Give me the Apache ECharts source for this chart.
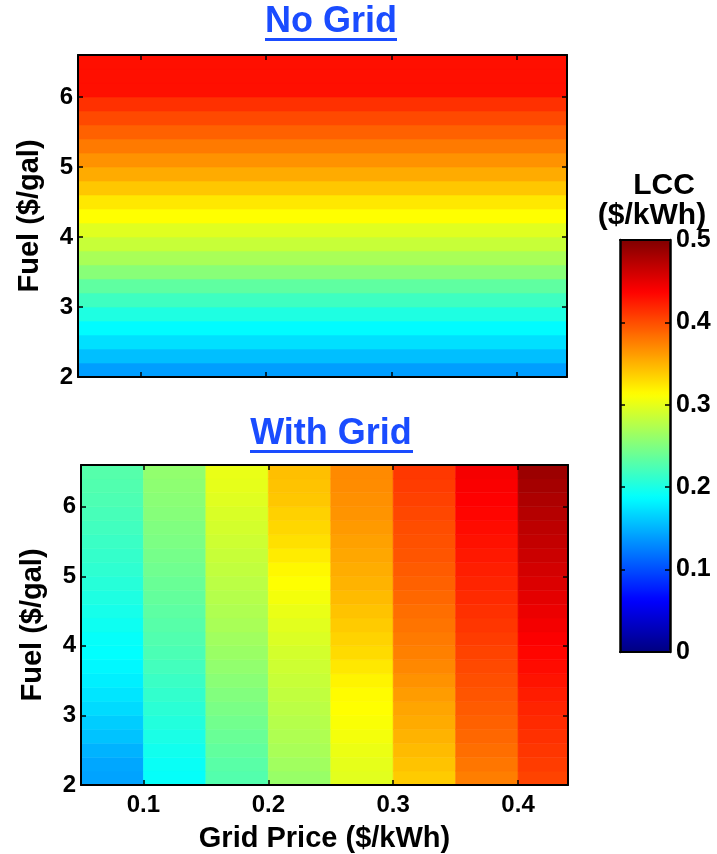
<!DOCTYPE html>
<html>
<head>
<meta charset="utf-8">
<script src="https://cdn.jsdelivr.net/npm/echarts@6/dist/echarts.min.js"></script>
<style>
html,body{margin:0;padding:0;background:#ffffff;}
#chart{width:717px;height:854px;}
</style>
</head>
<body>
<div id="chart"></div>
<script>
// ---------------- DATA ----------------
const gridPriceEdges = [0.05, 0.10, 0.15, 0.20, 0.25, 0.30, 0.35, 0.40, 0.44];
const fuelEdges = [2.0, 2.2, 2.4, 2.6, 2.8, 3.0, 3.2, 3.4, 3.6, 3.8, 4.0, 4.2,
                   4.4, 4.6, 4.8, 5.0, 5.2, 5.4, 5.6, 5.8, 6.0, 6.2, 6.4, 6.6];
const fuelTicks = [2, 3, 4, 5, 6];
const gridPriceTicks = [0.1, 0.2, 0.3, 0.4];
const lccTicks = [0, 0.1, 0.2, 0.3, 0.4, 0.5];

// No Grid: LCC per fuel band (bottom to top)
const noGridLCC = [0.140, 0.156, 0.172, 0.186, 0.202, 0.218, 0.234, 0.254, 0.270, 0.285,
                   0.297, 0.3125, 0.324, 0.340, 0.354, 0.366, 0.378, 0.390, 0.402, 0.414,
                   0.430, 0.430, 0.430];

// With Grid: LCC per fuel band (bottom to top), one array per grid-price column
const withGrid_005_010 = [0.142, 0.144, 0.150, 0.158, 0.163, 0.170, 0.175, 0.180, 0.184, 0.188, 0.190, 0.194,
                          0.198, 0.202, 0.206, 0.210, 0.213, 0.216, 0.219, 0.222, 0.225, 0.227, 0.229];
const withGrid_010_015 = [0.190, 0.192, 0.196, 0.200, 0.204, 0.208, 0.212, 0.216, 0.220, 0.224, 0.227, 0.230,
                          0.233, 0.236, 0.239, 0.242, 0.245, 0.248, 0.250, 0.253, 0.255, 0.257, 0.259];
const withGrid_015_020 = [0.228, 0.231, 0.235, 0.239, 0.243, 0.247, 0.251, 0.255, 0.259, 0.263, 0.266, 0.270,
                          0.273, 0.276, 0.279, 0.282, 0.285, 0.288, 0.291, 0.294, 0.297, 0.300, 0.302];
const withGrid_020_025 = [0.262, 0.266, 0.270, 0.273, 0.276, 0.279, 0.282, 0.285, 0.288, 0.291, 0.295, 0.298,
                          0.302, 0.307, 0.312, 0.316, 0.322, 0.328, 0.332, 0.335, 0.340, 0.342, 0.344];
const withGrid_025_030 = [0.298, 0.300, 0.303, 0.307, 0.310, 0.3125, 0.314, 0.318, 0.324, 0.330, 0.334, 0.338,
                          0.342, 0.346, 0.350, 0.353, 0.356, 0.359, 0.362, 0.365, 0.367, 0.369, 0.370];
const withGrid_030_035 = [0.338, 0.342, 0.346, 0.350, 0.354, 0.357, 0.361, 0.366, 0.371, 0.375, 0.378, 0.381,
                          0.384, 0.387, 0.390, 0.393, 0.396, 0.398, 0.400, 0.403, 0.406, 0.408, 0.410];
const withGrid_035_040 = [0.376, 0.380, 0.384, 0.387, 0.390, 0.393, 0.396, 0.399, 0.402, 0.405, 0.408, 0.411,
                          0.414, 0.417, 0.420, 0.423, 0.426, 0.429, 0.432, 0.435, 0.438, 0.440, 0.442];
const withGrid_040_044 = [0.405, 0.408, 0.411, 0.414, 0.417, 0.420, 0.424, 0.428, 0.432, 0.435, 0.439, 0.443,
                          0.447, 0.451, 0.455, 0.459, 0.463, 0.467, 0.470, 0.474, 0.478, 0.482, 0.486];
const withGridColumns = [withGrid_005_010, withGrid_010_015, withGrid_015_020, withGrid_020_025,
                         withGrid_025_030, withGrid_030_035, withGrid_035_040, withGrid_040_044];

// ---------------- BUILD ----------------
const FONT = "'Liberation Sans', Arial, Helvetica, sans-serif";
const jet = ['#000080', '#0000ff', '#0080ff', '#00ffff', '#80ff80', '#ffff00', '#ff8000', '#ff0000', '#800000'];
const xMin = gridPriceEdges[0], xMax = gridPriceEdges[gridPriceEdges.length - 1];
const yMin = fuelEdges[0], yMax = fuelEdges[fuelEdges.length - 1];

const noGridCells = noGridLCC.map((v, j) => [xMin, xMax, fuelEdges[j], fuelEdges[j + 1], v]);
const withGridCells = [];
withGridColumns.forEach((col, i) => {
  col.forEach((v, j) => {
    withGridCells.push([gridPriceEdges[i], gridPriceEdges[i + 1], fuelEdges[j], fuelEdges[j + 1], v]);
  });
});

function renderCell(params, api) {
  const a = api.coord([api.value(0), api.value(2)]);
  const b = api.coord([api.value(1), api.value(3)]);
  const c = api.visual('color');
  return {
    type: 'rect',
    shape: {
      x: Math.min(a[0], b[0]), y: Math.min(a[1], b[1]),
      width: Math.abs(b[0] - a[0]), height: Math.abs(b[1] - a[1])
    },
    style: { fill: c, stroke: c, lineWidth: 0.6 }
  };
}

const lineStyle = { color: '#000', width: 2 };
const tickLabel = { fontFamily: FONT, fontWeight: 'bold', fontSize: 24, color: '#000' };

function frameX(gridIndex, position, min, max, ticks) {
  return {
    type: 'value', gridIndex, position, min, max, z: 10,
    axisLine: { show: true, onZero: false, lineStyle },
    axisTick: ticks ? { show: true, inside: true, length: 5, customValues: ticks, lineStyle: { color: '#000', width: 1.5 } } : { show: false },
    axisLabel: { show: false },
    splitLine: { show: false }
  };
}
function frameY(gridIndex, position, min, max, ticks) {
  return {
    type: 'value', gridIndex, position, min, max, z: 10,
    axisLine: { show: true, onZero: false, lineStyle },
    axisTick: ticks ? { show: true, inside: true, length: 5, customValues: ticks, lineStyle: { color: '#000', width: 1.5 } } : { show: false },
    axisLabel: { show: false },
    splitLine: { show: false }
  };
}

const xAxes = [
  frameX(0, 'bottom', xMin, xMax, gridPriceTicks),
  frameX(0, 'top', xMin, xMax, gridPriceTicks),
  Object.assign(frameX(1, 'bottom', xMin, xMax, gridPriceTicks), {
    axisLabel: Object.assign({ show: true, margin: 8, customValues: gridPriceTicks, formatter: v => v.toFixed(1) }, tickLabel),
    name: 'Grid Price ($/kWh)', nameLocation: 'middle', nameGap: 39,
    nameTextStyle: { fontFamily: FONT, fontWeight: 'bold', fontSize: 29, color: '#000' }
  }),
  frameX(1, 'top', xMin, xMax, gridPriceTicks),
  frameX(2, 'bottom', 0, 1, null),
  frameX(2, 'top', 0, 1, null)
];
const yName = {
  name: 'Fuel ($/gal)', nameLocation: 'middle', nameGap: 34,
  nameTextStyle: { fontFamily: FONT, fontWeight: 'bold', fontSize: 29, color: '#000' }
};
const yAxes = [
  Object.assign(frameY(0, 'left', yMin, yMax, fuelTicks), {
    axisLabel: Object.assign({ show: true, margin: 5, customValues: fuelTicks }, tickLabel)
  }, yName),
  frameY(0, 'right', yMin, yMax, fuelTicks),
  Object.assign(frameY(1, 'left', yMin, yMax, fuelTicks), {
    axisLabel: Object.assign({ show: true, margin: 5, customValues: fuelTicks }, tickLabel)
  }, yName),
  frameY(1, 'right', yMin, yMax, fuelTicks),
  Object.assign(frameY(2, 'right', 0, 0.5, lccTicks), {
    axisLine: { show: true, onZero: false, lineStyle: { color: '#000', width: 2.5 } },
    axisLabel: Object.assign({ show: true, margin: 6, customValues: lccTicks, formatter: v => (v === 0 ? '0' : v.toFixed(1)) }, tickLabel, { fontSize: 25 })
  }),
  Object.assign(frameY(2, 'left', 0, 0.5, lccTicks), {
    axisLine: { show: true, onZero: false, lineStyle: { color: '#000', width: 2.5 } }
  })
];

const titleBlue = '#1a4cff';
const option = {
  backgroundColor: '#ffffff',
  animation: false,
  grid: [
    { left: 78, top: 55, width: 489, height: 322 },
    { left: 81, top: 465, width: 487, height: 322 },
    { left: 620, top: 240, width: 50, height: 412 }
  ],
  xAxis: xAxes,
  yAxis: yAxes,
  visualMap: {
    type: 'continuous', min: 0, max: 0.5, dimension: 4, seriesIndex: [0, 1],
    inRange: { color: jet },
    orient: 'vertical', left: 620, top: 240, itemWidth: 50, itemHeight: 412, padding: 0,
    calculable: false, hoverLink: false, showLabel: false, text: null
  },
  graphic: [
    { type: 'text', x: 331, y: 22, style: { text: 'No Grid', font: 'bold 36px ' + FONT, fill: titleBlue, align: 'center', verticalAlign: 'middle' } },
    { type: 'rect', shape: { x: 265, y: 38, width: 132, height: 3 }, style: { fill: titleBlue } },
    { type: 'text', x: 331, y: 434, style: { text: 'With Grid', font: 'bold 36px ' + FONT, fill: titleBlue, align: 'center', verticalAlign: 'middle' } },
    { type: 'rect', shape: { x: 250, y: 450, width: 163, height: 3 }, style: { fill: titleBlue } },
    { type: 'text', x: 664, y: 186, style: { text: 'LCC', font: 'bold 30px ' + FONT, fill: '#000', align: 'center', verticalAlign: 'middle' } },
    { type: 'text', x: 652, y: 216, style: { text: '($/kWh)', font: 'bold 30px ' + FONT, fill: '#000', align: 'center', verticalAlign: 'middle' } }
  ],
  series: [
    { type: 'custom', name: 'No Grid', xAxisIndex: 0, yAxisIndex: 0, clip: true,
      renderItem: renderCell, encode: { x: [0, 1], y: [2, 3] }, data: noGridCells },
    { type: 'custom', name: 'With Grid', xAxisIndex: 2, yAxisIndex: 2, clip: true,
      renderItem: renderCell, encode: { x: [0, 1], y: [2, 3] }, data: withGridCells }
  ]
};

const chart = echarts.init(document.getElementById('chart'), null, { renderer: 'canvas' });
chart.setOption(option);
</script>
</body>
</html>
